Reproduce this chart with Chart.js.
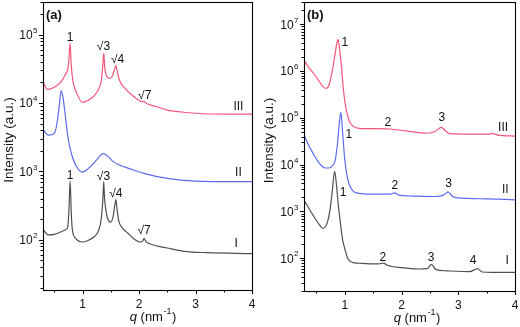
<!DOCTYPE html>
<html>
<head>
<meta charset="utf-8">
<script src="https://cdn.jsdelivr.net/npm/chart.js@4/dist/chart.umd.min.js"></script>
<style>
  body { margin: 0; background: #fff; }
  .panel { position: absolute; top: 0; }
</style>
</head>
<body>
<canvas id="chart-a" class="panel" width="260" height="327" style="left:0"></canvas>
<canvas id="chart-b" class="panel" width="260" height="327" style="left:260px"></canvas>
<script>
// tick positions / labels
const qTicks = [1, 2, 3, 4];
const qMinor = [0.5, 1.5, 2.5, 3.5];
const aDecades = [2, 3, 4, 5];
const bDecades = [2, 3, 4, 5, 6, 7];

// panel (a)
const aQ3 = [0.3, 0.38, 0.5, 0.62, 0.7, 0.74, 0.76, 0.78, 0.8, 0.83, 0.9, 1.0, 1.1, 1.2, 1.28, 1.33, 1.36, 1.375, 1.395, 1.43, 1.48, 1.53, 1.57, 1.59, 1.61, 1.65, 1.78, 1.9, 2.02, 2.07, 2.09, 2.12, 2.3, 2.5, 2.75, 3.0, 3.5, 4.0];
const aI3 = [20400, 15800, 17000, 20400, 26300, 31600, 44700, 76000, 35500, 21000, 13800, 10200, 11000, 12600, 15800, 21000, 35500, 53700, 31600, 24500, 22900, 25100, 31600, 35500, 30200, 21900, 15500, 12600, 10700, 10500, 10600, 10000, 8900, 7900, 7400, 7100, 6900, 6900];
const aQ2 = [0.3, 0.4, 0.5, 0.55, 0.59, 0.62, 0.65, 0.69, 0.74, 0.8, 0.9, 1.0, 1.1, 1.2, 1.3, 1.37, 1.45, 1.55, 1.7, 1.9, 2.1, 2.5, 3.0, 3.5, 4.0];
const aI2 = [4100, 3400, 3600, 5200, 9500, 15100, 12600, 7100, 3200, 1860, 1150, 980, 1100, 1320, 1660, 1820, 1660, 1380, 1200, 1050, 930, 790, 720, 710, 710];
const aQ1 = [0.3, 0.4, 0.5, 0.6, 0.7, 0.74, 0.76, 0.78, 0.8, 0.82, 0.88, 1.0, 1.1, 1.2, 1.28, 1.33, 1.36, 1.375, 1.39, 1.42, 1.46, 1.5, 1.54, 1.57, 1.59, 1.61, 1.64, 1.7, 1.8, 1.9, 2.02, 2.06, 2.09, 2.12, 2.2, 2.5, 2.8, 3.2, 4.0];
const aI1 = [141, 118, 120, 129, 141, 158, 282, 725, 251, 141, 105, 93, 98, 110, 135, 200, 398, 708, 398, 251, 191, 182, 219, 316, 389, 282, 191, 151, 126, 105, 93, 95, 105, 95, 87, 76, 68, 65, 63];
const aLabels = [
  [0.78, 89000, '1'], [1.37, 66000, '√3'], [1.62, 43000, '√4'], [2.1, 12900, '√7'], [3.76, 8900, 'III'],
  [3.76, 955, 'II'],
  [0.78, 870, '1'], [1.37, 850, '√3'], [1.59, 480, '√4'], [2.09, 135, '√7'], [3.72, 89, 'I']
];

// panel (b)
const bQ3 = [0.28, 0.35, 0.45, 0.55, 0.62, 0.67, 0.72, 0.77, 0.82, 0.86, 0.88, 0.9, 0.94, 0.98, 1.02, 1.08, 1.15, 1.25, 1.5, 1.8, 2.1, 2.45, 2.6, 2.7, 2.78, 2.85, 3.2, 3.5, 3.6, 3.7, 4.0];
const bI3 = [1.7e6, 1.26e6, 8.9e5, 6.0e5, 4.6e5, 4.3e5, 5.0e5, 8.9e5, 2.0e6, 4.0e6, 4.8e6, 3.5e6, 1.26e6, 3.5e5, 1.6e5, 8.5e4, 6.6e4, 6.0e4, 5.9e4, 5.8e4, 5.2e4, 4.7e4, 5.2e4, 6.3e4, 5.2e4, 4.6e4, 4.5e4, 4.5e4, 4.6e4, 4.3e4, 4.1e4];
const bQ2 = [0.28, 0.35, 0.45, 0.55, 0.65, 0.72, 0.78, 0.83, 0.87, 0.9, 0.93, 0.96, 1.0, 1.05, 1.1, 1.2, 1.5, 1.8, 1.88, 1.95, 2.2, 2.6, 2.74, 2.82, 2.9, 3.0, 3.5, 4.0];
const bI2 = [4.3e4, 2.8e4, 1.66e4, 1.07e4, 8500, 8500, 9500, 12600, 28000, 71000, 132000, 50000, 12300, 5000, 3300, 2500, 2350, 2350, 2500, 2240, 2140, 2090, 2240, 2630, 2090, 1950, 1860, 1780];
const bQ1 = [0.28, 0.35, 0.45, 0.55, 0.61, 0.66, 0.7, 0.74, 0.78, 0.82, 0.85, 0.88, 0.92, 0.96, 1.0, 1.05, 1.1, 1.15, 1.3, 1.6, 1.68, 1.75, 2.0, 2.3, 2.45, 2.53, 2.6, 2.8, 3.2, 3.34, 3.42, 3.6, 4.0];
const bI1 = [1740, 1260, 794, 525, 437, 479, 631, 1120, 2820, 7240, 3980, 1580, 600, 250, 160, 100, 85, 81, 78, 76, 79, 71, 63, 59, 60, 74, 58, 54, 52, 60, 51, 50, 50];
const bLabels = [
  [1.0, 4.0e6, '1'], [1.76, 8.1e4, '2'], [2.71, 1.0e5, '3'], [3.79, 6.3e4, 'III'],
  [1.07, 4.3e4, '1'], [1.88, 3600, '2'], [2.83, 4000, '3'], [3.83, 2950, 'II'],
  [0.97, 2570, '1'], [1.67, 105, '2'], [2.52, 105, '3'], [3.26, 89, '4'], [3.86, 89, 'I']
];

const RED = '#f5577a', BLUE = '#5b6cf2', GRAY = '#505050';
const FONT = '"Liberation Sans", Arial, sans-serif';

function pts(q, v) { return q.map((x, i) => ({ x: x, y: v[i] })); }

function series(q, v, color) {
  return {
    data: pts(q, v),
    borderColor: color,
    borderWidth: 1.2,
    pointRadius: 0,
    cubicInterpolationMode: 'monotone',
    fill: false
  };
}

const decorate = {
  id: 'decorate',
  afterDraw(chart, args, o) {
    const { ctx, chartArea: a, scales: { x, y } } = chart;
    ctx.save();
    ctx.strokeStyle = '#000';
    ctx.lineWidth = 1.1;
    ctx.strokeRect(a.left + 0.5, a.top + 0.5, a.right - a.left, a.bottom - a.top);

    ctx.beginPath();
    qTicks.forEach(v => {
      const px = Math.round(x.getPixelForValue(v)) + 0.5;
      ctx.moveTo(px, a.bottom); ctx.lineTo(px, a.bottom + 4);
    });
    qMinor.forEach(v => {
      if (v < x.min) return;
      const px = Math.round(x.getPixelForValue(v)) + 0.5;
      ctx.moveTo(px, a.bottom); ctx.lineTo(px, a.bottom + 2.5);
    });
    for (let e = o.decades[0] - 1; e <= o.decades[o.decades.length - 1]; e++) {
      for (let m = 1; m < 10; m++) {
        const v = m * Math.pow(10, e);
        if (v < y.min || v > y.max) continue;
        const py = Math.round(y.getPixelForValue(v)) + 0.5;
        ctx.moveTo(a.left, py); ctx.lineTo(a.left - (m === 1 ? 4 : 2.5), py);
      }
    }
    ctx.stroke();

    ctx.fillStyle = '#111';
    // x tick labels
    ctx.font = '12px ' + FONT;
    ctx.textAlign = 'center';
    ctx.textBaseline = 'middle';
    qTicks.forEach(v => ctx.fillText(String(v), x.getPixelForValue(v), a.bottom + 15));

    // y tick labels 10^n
    o.decades.forEach(e => {
      const py = y.getPixelForValue(Math.pow(10, e));
      ctx.font = '8px ' + FONT;
      const we = ctx.measureText(String(e)).width;
      ctx.font = '12px ' + FONT;
      const wb = ctx.measureText('10').width;
      const x0 = a.left - 6 - we - wb;
      ctx.textAlign = 'left';
      ctx.fillText('10', x0, py + 1);
      ctx.font = '8px ' + FONT;
      ctx.fillText(String(e), x0 + wb + 0.5, py - 4);
    });

    // x title: q (nm^-1)
    ctx.font = 'italic 13px ' + FONT;
    const tq = ctx.measureText('q').width;
    ctx.font = '13px ' + FONT;
    const t1 = ctx.measureText(' (nm').width;
    const t3 = ctx.measureText(')').width;
    ctx.font = '9px ' + FONT;
    const t2 = ctx.measureText('-1').width;
    let tx = (a.left + a.right) / 2 + o.titleShift - (tq + t1 + t2 + t3) / 2;
    const ty = a.bottom + 27;
    ctx.font = 'italic 13px ' + FONT; ctx.fillText('q', tx, ty); tx += tq;
    ctx.font = '13px ' + FONT; ctx.fillText(' (nm', tx, ty); tx += t1;
    ctx.font = '9px ' + FONT; ctx.fillText('-1', tx + 0.5, ty - 5); tx += t2 + 1;
    ctx.font = '13px ' + FONT; ctx.fillText(')', tx, ty);

    // y title
    ctx.save();
    ctx.translate(9, (a.top + a.bottom) / 2 - 6);
    ctx.rotate(-Math.PI / 2);
    ctx.textAlign = 'center';
    ctx.font = '13.5px ' + FONT;
    ctx.fillText('Intensity (a.u.)', 0, 0);
    ctx.restore();

    // panel label
    ctx.textAlign = 'left';
    ctx.font = 'bold 13px ' + FONT;
    ctx.fillText(o.panel, a.left + 3, a.top + 13);

    // peak / curve labels
    ctx.textAlign = 'center';
    ctx.font = '12px ' + FONT;
    o.labels.forEach(l => ctx.fillText(l[2], x.getPixelForValue(l[0]), y.getPixelForValue(l[1])));
    ctx.restore();
  }
};

function makeChart(id, sets, qmin, ymin, ymax, pad, opts) {
  return new Chart(document.getElementById(id), {
    type: 'line',
    data: { datasets: sets },
    plugins: [decorate],
    options: {
      responsive: false,
      animation: false,
      layout: { padding: { top: 2, right: pad.right, left: 0, bottom: 0 } },
      plugins: { legend: { display: false }, tooltip: { enabled: false }, decorate: opts },
      scales: {
        x: {
          type: 'linear', min: qmin, max: 4,
          grid: { display: false }, border: { display: false }, ticks: { display: false },
          afterFit(s) { s.height = pad.bottom; }
        },
        y: {
          type: 'logarithmic', min: ymin, max: ymax,
          grid: { display: false }, border: { display: false }, ticks: { display: false },
          afterFit(s) { s.width = pad.left; }
        }
      }
    }
  });
}

makeChart('chart-a',
  [series(aQ3, aI3, RED), series(aQ2, aI2, BLUE), series(aQ1, aI1, GRAY)],
  0.3, 18.5, 3e5, { left: 43, right: 8, bottom: 37 },
  { decades: aDecades, labels: aLabels, panel: '(a)', titleShift: 5 });

makeChart('chart-b',
  [series(bQ3, bI3, RED), series(bQ2, bI2, BLUE), series(bQ1, bI1, GRAY)],
  0.28, 20, 3e7, { left: 44, right: 5, bottom: 36 },
  { decades: bDecades, labels: bLabels, panel: '(b)', titleShift: 7 });
</script>
</body>
</html>
